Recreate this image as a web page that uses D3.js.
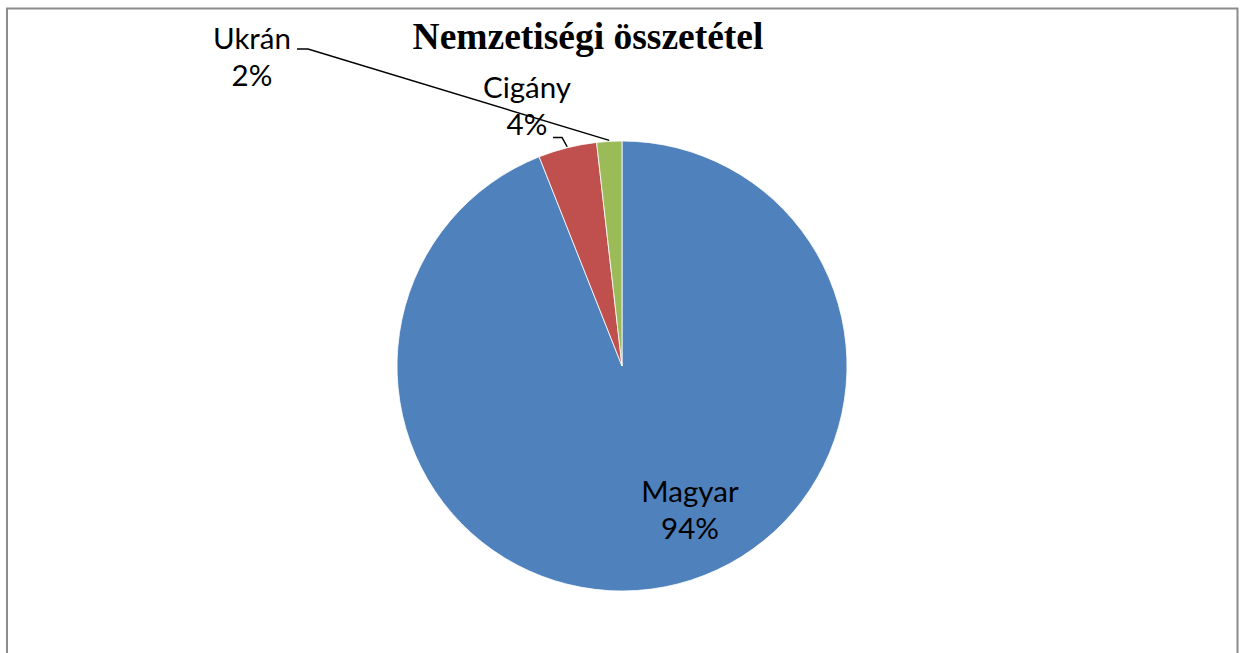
<!DOCTYPE html>
<html>
<head>
<meta charset="utf-8">
<script src="https://cdn.jsdelivr.net/npm/d3@7"></script>
<style>
  html, body { margin: 0; padding: 0; background: #fff; }
  svg { display: block; }
</style>
</head>
<body>
<div id="chart"></div>
<script>
// DATA
const categories = ["Magyar", "Cigány", "Ukrán"];
const shares = [94.0, 4.2, 1.8];
const percentLabels = ["94%", "4%", "2%"];
const colors = ["#4F81BD", "#C0504D", "#9BBB59"];
const title = "Nemzetiségi összetétel";

const WIDTH = 1243;
const HEIGHT = 653;
const CENTER = { X: 622, Y: 366 };
const RADIUS = 225;

// LABEL LAYOUT (text centre x, first baseline y, leader start)
const labelLayout = [
  { x: 690, y: 502, leader: null },
  { x: 527, y: 98, leader: [[553, 137.5], [562, 137.5]] },
  { x: 252, y: 49, leader: [[297, 49], [308, 49]] }
];

const svg = d3
  .select("#chart")
  .append("svg")
  .attr("width", WIDTH)
  .attr("height", HEIGHT);

// CHART BORDER
svg
  .append("path")
  .attr("d", `M7,${HEIGHT + 5} V8.5 H1237.5 V${HEIGHT + 5}`)
  .attr("fill", "none")
  .attr("stroke", "#8c8c8c")
  .attr("stroke-width", 2);

// TITLE
svg
  .append("text")
  .attr("x", 588)
  .attr("y", 49)
  .attr("text-anchor", "middle")
  .attr("font-family", "'Liberation Serif', 'Times New Roman', serif")
  .attr("font-weight", "bold")
  .attr("font-size", 37.5)
  .attr("fill", "#000")
  .text(title);

const data = categories.map((c, i) => ({
  name: c,
  value: shares[i],
  label: percentLabels[i],
  color: colors[i],
  layout: labelLayout[i]
}));

const pie = d3.pie().sort(null).value(d => d.value);
const arc = d3.arc().innerRadius(0).outerRadius(RADIUS);
const arcs = pie(data);

const g = svg
  .append("g")
  .attr("transform", `translate(${CENTER.X}, ${CENTER.Y})`);

g.selectAll(".slice")
  .data(arcs)
  .enter()
  .append("path")
  .attr("class", "slice")
  .attr("d", arc)
  .attr("fill", d => d.data.color)
  .attr("stroke", "#fff")
  .attr("stroke-width", 0.8);

// LEADER LINES
const edgePoint = (d, r) => {
  const a = (d.startAngle + d.endAngle) / 2;
  return [CENTER.X + r * Math.sin(a), CENTER.Y - r * Math.cos(a)];
};

svg
  .selectAll(".leader")
  .data(arcs.filter(d => d.data.layout.leader))
  .enter()
  .append("path")
  .attr("class", "leader")
  .attr("d", d => d3.line()([...d.data.layout.leader, edgePoint(d, RADIUS + 1)]))
  .attr("fill", "none")
  .attr("stroke", "#000")
  .attr("stroke-width", 1.5);

// DATA LABELS
const labels = svg
  .selectAll(".label")
  .data(arcs)
  .enter()
  .append("text")
  .attr("class", "label")
  .attr("text-anchor", "middle")
  .attr("font-family", "Lato, 'Noto Sans', sans-serif")
  .attr("font-size", 29.5)
  .attr("fill", "#000");

labels
  .append("tspan")
  .attr("x", d => d.data.layout.x)
  .attr("y", d => d.data.layout.y)
  .text(d => d.data.name);

labels
  .append("tspan")
  .attr("x", d => d.data.layout.x)
  .attr("y", d => d.data.layout.y + 37)
  .text(d => d.data.label);
</script>
</body>
</html>
